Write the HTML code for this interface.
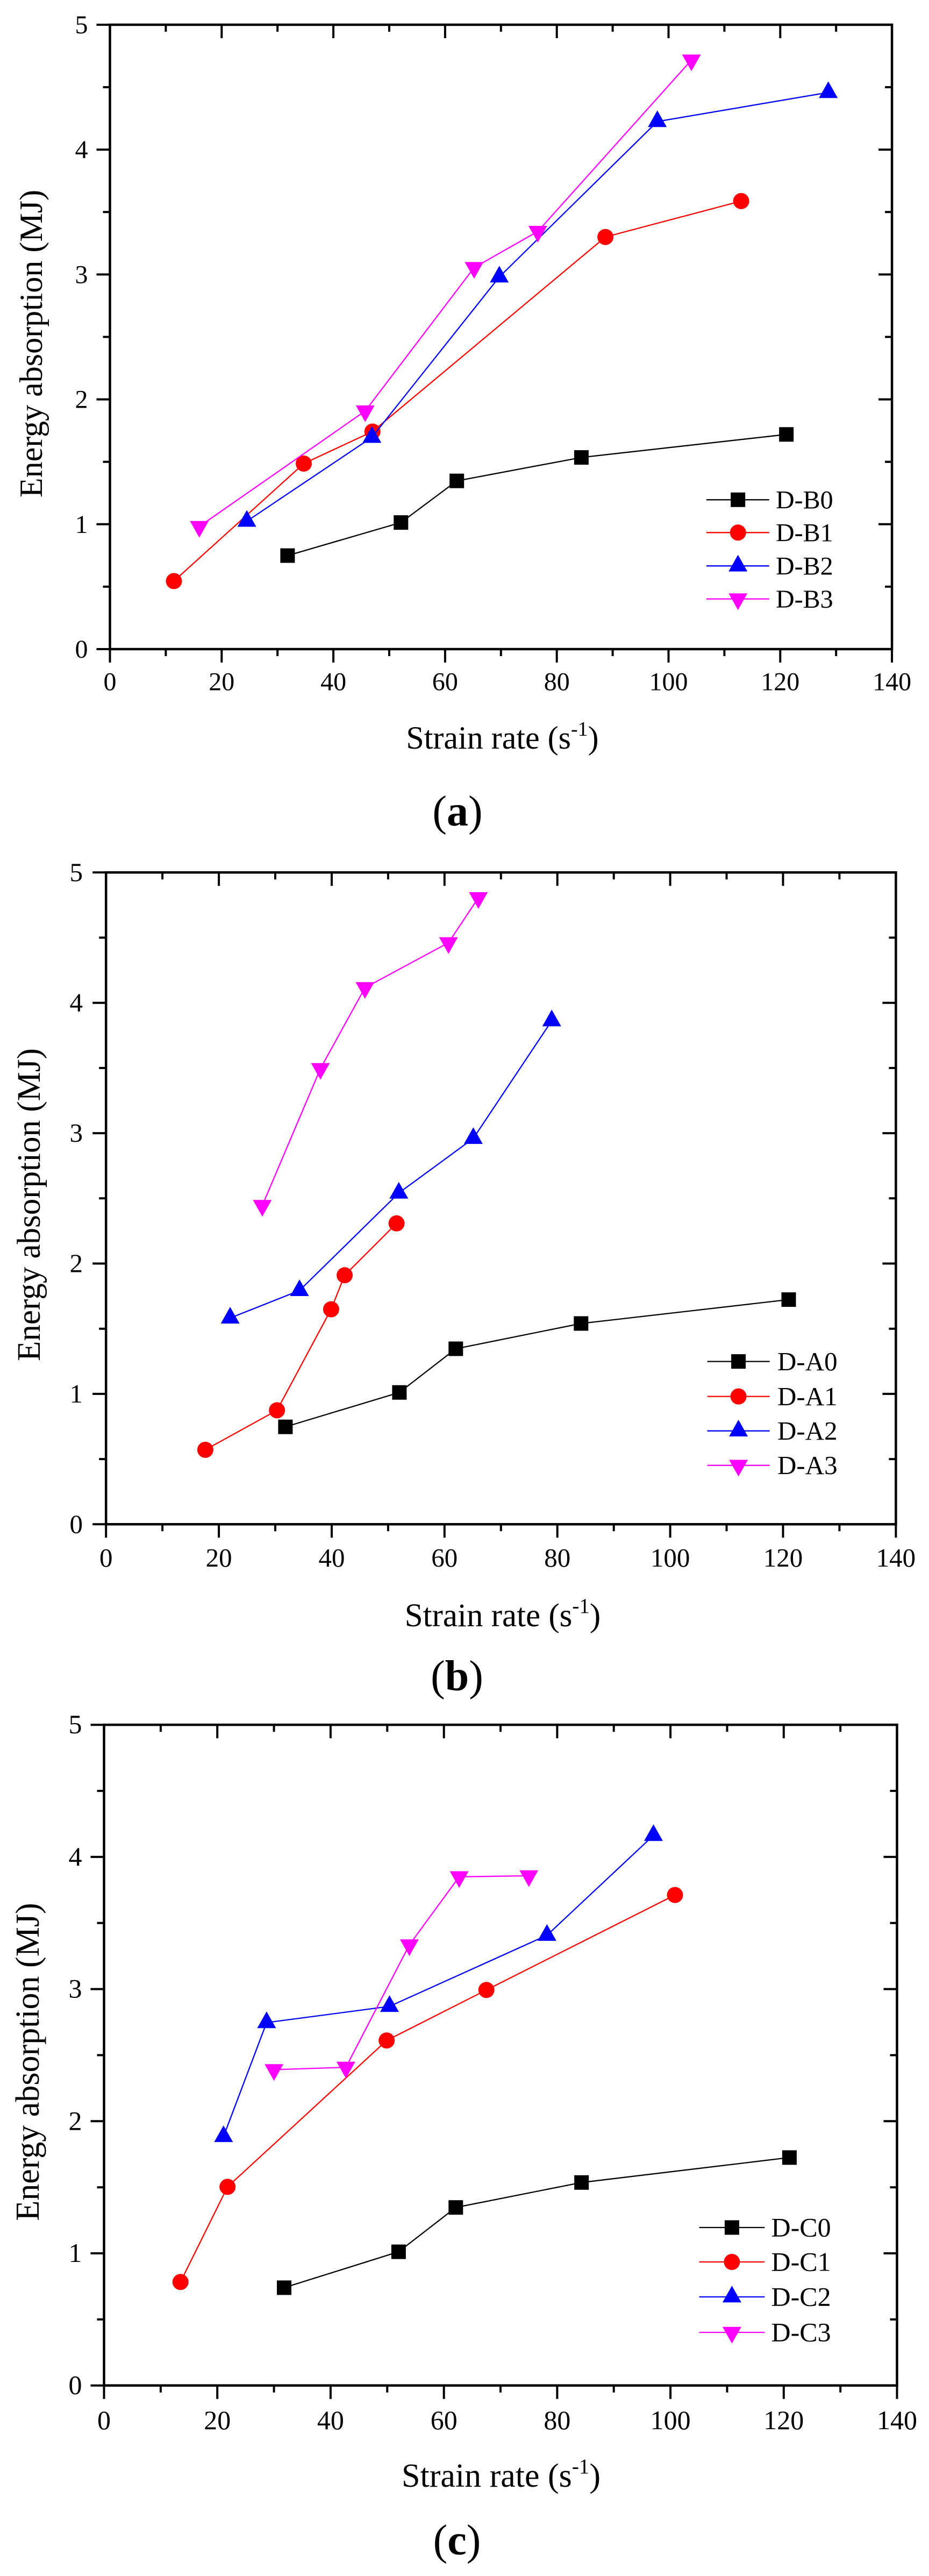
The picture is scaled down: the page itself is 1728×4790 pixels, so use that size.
<!DOCTYPE html>
<html>
<head>
<meta charset="utf-8">
<style>
  html,body{margin:0;padding:0;background:#fff;}
  svg{display:block;}
  text{font-family:"Liberation Serif","Times New Roman",serif;fill:#000;}
</style>
</head>
<body>
<svg width="1728" height="4790" viewBox="0 0 1728 4790" xmlns="http://www.w3.org/2000/svg">
<defs>
  <rect id="sq" x="-13.5" y="-13.5" width="27" height="27"/>
  <circle id="ci" cx="0" cy="0" r="15"/>
  <path id="tu" d="M0 -20.7 L17.5 10.3 L-17.5 10.3Z"/>
  <path id="td" d="M0 20.7 L17.5 -10.3 L-17.5 -10.3Z"/>
</defs>
<rect x="0" y="0" width="1728" height="4790" fill="#fff"/>

<!-- ================= CHART A ================= -->
<g>
  <rect x="204.5" y="46" width="1454.6" height="1161" fill="none" stroke="#000" stroke-width="4.5"/>
  <path stroke="#000" stroke-width="4" fill="none" d="
    M204.5 1207v25 M412.3 1207v25 M620.1 1207v25 M827.9 1207v25 M1035.7 1207v25 M1243.5 1207v25 M1451.3 1207v25 M1659.1 1207v25
    M308.4 1207v13 M516.2 1207v13 M724 1207v13 M931.8 1207v13 M1139.6 1207v13 M1347.4 1207v13 M1555.2 1207v13
    M412.3 46v25 M620.1 46v25 M827.9 46v25 M1035.7 46v25 M1243.5 46v25 M1451.3 46v25
    M308.4 46v13 M516.2 46v13 M724 46v13 M931.8 46v13 M1139.6 46v13 M1347.4 46v13 M1555.2 46v13
    M204.5 1207h-25 M204.5 974.8h-25 M204.5 742.6h-25 M204.5 510.4h-25 M204.5 278.2h-25 M204.5 46h-25
    M204.5 1090.9h-13 M204.5 858.7h-13 M204.5 626.5h-13 M204.5 394.3h-13 M204.5 162.1h-13
    M1659.1 974.8h-25 M1659.1 742.6h-25 M1659.1 510.4h-25 M1659.1 278.2h-25
    M1659.1 1090.9h-13 M1659.1 858.7h-13 M1659.1 626.5h-13 M1659.1 394.3h-13 M1659.1 162.1h-13"/>
  <g font-size="48" text-anchor="middle">
    <text x="204.5" y="1283.5">0</text><text x="412.3" y="1283.5">20</text><text x="620.1" y="1283.5">40</text>
    <text x="827.9" y="1283.5">60</text><text x="1035.7" y="1283.5">80</text><text x="1243.5" y="1283.5">100</text>
    <text x="1451.3" y="1283.5">120</text><text x="1659.1" y="1283.5">140</text>
  </g>
  <g font-size="48" text-anchor="end">
    <text x="163.5" y="1223">0</text><text x="163.5" y="990.8">1</text><text x="163.5" y="758.6">2</text>
    <text x="163.5" y="526.4">3</text><text x="163.5" y="294.2">4</text><text x="163.5" y="62">5</text>
  </g>
  <text x="934.5" y="1392" font-size="60" text-anchor="middle">Strain rate (s<tspan dy="-24" font-size="38">-1</tspan><tspan dy="24">)</tspan></text>
  <text transform="translate(78,639) rotate(-90)" font-size="60" text-anchor="middle">Energy absorption (MJ)</text>
  <text x="851" y="1535" font-size="80" text-anchor="middle">(<tspan font-weight="bold">a</tspan>)</text>

  <!-- series -->
  <polyline fill="none" stroke="#000" stroke-width="2.3" points="534.9,1033.1 745.8,971.6 849.7,894.2 1081.4,850.6 1462.7,807.8"/>
  <g fill="#000"><use href="#sq" x="534.9" y="1033.1"/><use href="#sq" x="745.8" y="971.6"/><use href="#sq" x="849.7" y="894.2"/><use href="#sq" x="1081.4" y="850.6"/><use href="#sq" x="1462.7" y="807.8"/></g>
  <polyline fill="none" stroke="#f00" stroke-width="2.3" points="323.5,1080.5 565,862 692.8,802.5 1126.1,440.7 1378.6,373.9"/>
  <g fill="#f00"><use href="#ci" x="323.5" y="1080.5"/><use href="#ci" x="565" y="862"/><use href="#ci" x="692.8" y="802.5"/><use href="#ci" x="1126.1" y="440.7"/><use href="#ci" x="1378.6" y="373.9"/></g>
  <polyline fill="none" stroke="#00f" stroke-width="2.3" points="459.1,969.2 691.8,813.2 928.7,515 1222.7,226 1540.7,171.9"/>
  <g fill="#00f"><use href="#tu" x="459.1" y="969.2"/><use href="#tu" x="691.8" y="813.2"/><use href="#tu" x="928.7" y="515"/><use href="#tu" x="1222.7" y="226"/><use href="#tu" x="1540.7" y="171.9"/></g>
  <polyline fill="none" stroke="#f0f" stroke-width="2.3" points="370.7,979 679.3,764.2 881.9,497.6 1000.4,430.3 1286.1,111.7"/>
  <g fill="#f0f"><use href="#td" x="370.7" y="979"/><use href="#td" x="679.3" y="764.2"/><use href="#td" x="881.9" y="497.6"/><use href="#td" x="1000.4" y="430.3"/><use href="#td" x="1286.1" y="111.7"/></g>

  <!-- legend -->
  <line x1="1314" y1="929.3" x2="1430.7" y2="929.3" stroke="#000" stroke-width="2.3"/><use href="#sq" x="1372.7" y="929.3" fill="#000"/>
  <line x1="1314" y1="990.3" x2="1430.7" y2="990.3" stroke="#f00" stroke-width="2.3"/><use href="#ci" x="1372.7" y="990.3" fill="#f00"/>
  <line x1="1314" y1="1052.3" x2="1430.7" y2="1052.3" stroke="#00f" stroke-width="2.3"/><use href="#tu" x="1372.7" y="1052.3" fill="#00f"/>
  <line x1="1314" y1="1113.7" x2="1430.7" y2="1113.7" stroke="#f0f" stroke-width="2.3"/><use href="#td" x="1372.7" y="1113.7" fill="#f0f"/>
  <g font-size="48">
    <text x="1443" y="945.5">D-B0</text><text x="1443" y="1006.5">D-B1</text>
    <text x="1443" y="1068.5">D-B2</text><text x="1443" y="1130">D-B3</text>
  </g>
</g>

<!-- ================= CHART B ================= -->
<g>
  <rect x="197.2" y="1622.3" width="1469.2" height="1212" fill="none" stroke="#000" stroke-width="4.5"/>
  <path stroke="#000" stroke-width="4" fill="none" d="
    M197.2 2834.3v25 M407.1 2834.3v25 M617 2834.3v25 M826.8 2834.3v25 M1036.7 2834.3v25 M1246.6 2834.3v25 M1456.5 2834.3v25 M1666.4 2834.3v25
    M302.1 2834.3v13 M512 2834.3v13 M721.9 2834.3v13 M931.8 2834.3v13 M1141.7 2834.3v13 M1351.5 2834.3v13 M1561.4 2834.3v13
    M407.1 1622.3v25 M617 1622.3v25 M826.8 1622.3v25 M1036.7 1622.3v25 M1246.6 1622.3v25 M1456.5 1622.3v25
    M302.1 1622.3v13 M512 1622.3v13 M721.9 1622.3v13 M931.8 1622.3v13 M1141.7 1622.3v13 M1351.5 1622.3v13 M1561.4 1622.3v13
    M197.2 2834.3h-25 M197.2 2591.9h-25 M197.2 2349.5h-25 M197.2 2107.1h-25 M197.2 1864.7h-25 M197.2 1622.3h-25
    M197.2 2713.1h-13 M197.2 2470.7h-13 M197.2 2228.3h-13 M197.2 1985.9h-13 M197.2 1743.5h-13
    M1666.4 2591.9h-25 M1666.4 2349.5h-25 M1666.4 2107.1h-25 M1666.4 1864.7h-25
    M1666.4 2713.1h-13 M1666.4 2470.7h-13 M1666.4 2228.3h-13 M1666.4 1985.9h-13 M1666.4 1743.5h-13"/>
  <g font-size="49" text-anchor="middle">
    <text x="197.2" y="2913">0</text><text x="407.1" y="2913">20</text><text x="617" y="2913">40</text>
    <text x="826.8" y="2913">60</text><text x="1036.7" y="2913">80</text><text x="1246.6" y="2913">100</text>
    <text x="1456.5" y="2913">120</text><text x="1666.4" y="2913">140</text>
  </g>
  <g font-size="49" text-anchor="end">
    <text x="154" y="2850.3">0</text><text x="154" y="2607.9">1</text><text x="154" y="2365.5">2</text>
    <text x="154" y="2123.1">3</text><text x="154" y="1880.7">4</text><text x="154" y="1638.3">5</text>
  </g>
  <text x="935" y="3024" font-size="61" text-anchor="middle">Strain rate (s<tspan dy="-25" font-size="39">-1</tspan><tspan dy="25">)</tspan></text>
  <text transform="translate(74,2240) rotate(-90)" font-size="61" text-anchor="middle">Energy absorption (MJ)</text>
  <text x="850" y="3143" font-size="80" text-anchor="middle">(<tspan font-weight="bold">b</tspan>)</text>

  <polyline fill="none" stroke="#000" stroke-width="2.3" points="530.9,2653.2 742.9,2589.2 847.8,2508 1080.8,2461 1467,2416.6"/>
  <g fill="#000"><use href="#sq" x="530.9" y="2653.2"/><use href="#sq" x="742.9" y="2589.2"/><use href="#sq" x="847.8" y="2508"/><use href="#sq" x="1080.8" y="2461"/><use href="#sq" x="1467" y="2416.6"/></g>
  <polyline fill="none" stroke="#f00" stroke-width="2.3" points="381.9,2695.9 515.2,2622.4 615.9,2434.6 641.1,2371.3 737.6,2274.8"/>
  <g fill="#f00"><use href="#ci" x="381.9" y="2695.9"/><use href="#ci" x="515.2" y="2622.4"/><use href="#ci" x="615.9" y="2434.6"/><use href="#ci" x="641.1" y="2371.3"/><use href="#ci" x="737.6" y="2274.8"/></g>
  <polyline fill="none" stroke="#00f" stroke-width="2.3" points="428.1,2450.8 557.1,2399.7 741.8,2218.4 880.4,2116.8 1026.2,1898.1"/>
  <g fill="#00f"><use href="#tu" x="428.1" y="2450.8"/><use href="#tu" x="557.1" y="2399.7"/><use href="#tu" x="741.8" y="2218.4"/><use href="#tu" x="880.4" y="2116.8"/><use href="#tu" x="1026.2" y="1898.1"/></g>
  <polyline fill="none" stroke="#f0f" stroke-width="2.3" points="487.9,2241.6 596,1987.1 678.9,1836.6 834.2,1753 889.8,1669.3"/>
  <g fill="#f0f"><use href="#td" x="487.9" y="2241.6"/><use href="#td" x="596" y="1987.1"/><use href="#td" x="678.9" y="1836.6"/><use href="#td" x="834.2" y="1753"/><use href="#td" x="889.8" y="1669.3"/></g>

  <line x1="1315.6" y1="2531.6" x2="1431.7" y2="2531.6" stroke="#000" stroke-width="2.3"/><use href="#sq" x="1373.6" y="2531.6" fill="#000"/>
  <line x1="1315.6" y1="2596.6" x2="1431.7" y2="2596.6" stroke="#f00" stroke-width="2.3"/><use href="#ci" x="1373.6" y="2596.6" fill="#f00"/>
  <line x1="1315.6" y1="2660.7" x2="1431.7" y2="2660.7" stroke="#00f" stroke-width="2.3"/><use href="#tu" x="1373.6" y="2660.7" fill="#00f"/>
  <line x1="1315.6" y1="2724.8" x2="1431.7" y2="2724.8" stroke="#f0f" stroke-width="2.3"/><use href="#td" x="1373.6" y="2724.8" fill="#f0f"/>
  <g font-size="49">
    <text x="1446" y="2548">D-A0</text><text x="1446" y="2613">D-A1</text>
    <text x="1446" y="2677">D-A2</text><text x="1446" y="2741">D-A3</text>
  </g>
</g>

<!-- ================= CHART C ================= -->
<g>
  <rect x="193.5" y="3207.2" width="1475" height="1228.5" fill="none" stroke="#000" stroke-width="4.5"/>
  <path stroke="#000" stroke-width="4" fill="none" d="
    M193.5 4435.7v25 M404.2 4435.7v25 M614.9 4435.7v25 M825.7 4435.7v25 M1036.4 4435.7v25 M1247.1 4435.7v25 M1457.8 4435.7v25 M1668.5 4435.7v25
    M298.9 4435.7v13 M509.6 4435.7v13 M720.3 4435.7v13 M931 4435.7v13 M1141.7 4435.7v13 M1352.5 4435.7v13 M1563.2 4435.7v13
    M404.2 3207.2v25 M614.9 3207.2v25 M825.7 3207.2v25 M1036.4 3207.2v25 M1247.1 3207.2v25 M1457.8 3207.2v25
    M298.9 3207.2v13 M509.6 3207.2v13 M720.3 3207.2v13 M931 3207.2v13 M1141.7 3207.2v13 M1352.5 3207.2v13 M1563.2 3207.2v13
    M193.5 4435.7h-25 M193.5 4190h-25 M193.5 3944.3h-25 M193.5 3698.6h-25 M193.5 3452.9h-25 M193.5 3207.2h-25
    M193.5 4312.9h-13 M193.5 4067.2h-13 M193.5 3821.5h-13 M193.5 3575.8h-13 M193.5 3330.1h-13
    M1668.5 4190h-25 M1668.5 3944.3h-25 M1668.5 3698.6h-25 M1668.5 3452.9h-25
    M1668.5 4312.9h-13 M1668.5 4067.2h-13 M1668.5 3821.5h-13 M1668.5 3575.8h-13 M1668.5 3330.1h-13"/>
  <g font-size="50" text-anchor="middle">
    <text x="193.5" y="4517">0</text><text x="404.2" y="4517">20</text><text x="614.9" y="4517">40</text>
    <text x="825.7" y="4517">60</text><text x="1036.4" y="4517">80</text><text x="1247.1" y="4517">100</text>
    <text x="1457.8" y="4517">120</text><text x="1668.5" y="4517">140</text>
  </g>
  <g font-size="50" text-anchor="end">
    <text x="152.5" y="4451.7">0</text><text x="152.5" y="4206">1</text><text x="152.5" y="3960.3">2</text>
    <text x="152.5" y="3714.6">3</text><text x="152.5" y="3468.9">4</text><text x="152.5" y="3223.2">5</text>
  </g>
  <text x="932" y="4624" font-size="62" text-anchor="middle">Strain rate (s<tspan dy="-25" font-size="39">-1</tspan><tspan dy="25">)</tspan></text>
  <text transform="translate(72,3834) rotate(-90)" font-size="62" text-anchor="middle">Energy absorption (MJ)</text>
  <text x="850" y="4750" font-size="80" text-anchor="middle">(<tspan font-weight="bold">c</tspan>)</text>

  <polyline fill="none" stroke="#000" stroke-width="2.3" points="528.5,4253.9 741.4,4187.1 847.8,4104.7 1081.7,4058.3 1468.4,4011.9"/>
  <g fill="#000"><use href="#sq" x="528.5" y="4253.9"/><use href="#sq" x="741.4" y="4187.1"/><use href="#sq" x="847.8" y="4104.7"/><use href="#sq" x="1081.7" y="4058.3"/><use href="#sq" x="1468.4" y="4011.9"/></g>
  <polyline fill="none" stroke="#f00" stroke-width="2.3" points="335.7,4243.3 423.2,4066.4 719.2,3794.2 904.7,3700.3 1255.5,3523.7"/>
  <g fill="#f00"><use href="#ci" x="335.7" y="4243.3"/><use href="#ci" x="423.2" y="4066.4"/><use href="#ci" x="719.2" y="3794.2"/><use href="#ci" x="904.7" y="3700.3"/><use href="#ci" x="1255.5" y="3523.7"/></g>
  <polyline fill="none" stroke="#00f" stroke-width="2.3" points="415.8,3972.8 495.9,3761 724.5,3730.8 1017.4,3598.6 1215.5,3412.9"/>
  <g fill="#00f"><use href="#tu" x="415.8" y="3972.8"/><use href="#tu" x="495.9" y="3761"/><use href="#tu" x="724.5" y="3730.8"/><use href="#tu" x="1017.4" y="3598.6"/><use href="#tu" x="1215.5" y="3412.9"/></g>
  <polyline fill="none" stroke="#f0f" stroke-width="2.3" points="509.6,3848.5 643.4,3844.1 761.4,3616.5 854.1,3489.8 983.7,3488"/>
  <g fill="#f0f"><use href="#td" x="509.6" y="3848.5"/><use href="#td" x="643.4" y="3844.1"/><use href="#td" x="761.4" y="3616.5"/><use href="#td" x="854.1" y="3489.8"/><use href="#td" x="983.7" y="3488"/></g>

  <line x1="1300.5" y1="4142" x2="1422.3" y2="4142" stroke="#000" stroke-width="2.3"/><use href="#sq" x="1361.4" y="4142" fill="#000"/>
  <line x1="1300.5" y1="4206" x2="1422.3" y2="4206" stroke="#f00" stroke-width="2.3"/><use href="#ci" x="1361.4" y="4206" fill="#f00"/>
  <line x1="1300.5" y1="4271" x2="1422.3" y2="4271" stroke="#00f" stroke-width="2.3"/><use href="#tu" x="1361.4" y="4271" fill="#00f"/>
  <line x1="1300.5" y1="4337" x2="1422.3" y2="4337" stroke="#f0f" stroke-width="2.3"/><use href="#td" x="1361.4" y="4337" fill="#f0f"/>
  <g font-size="50">
    <text x="1434.5" y="4158.5">D-C0</text><text x="1434.5" y="4222.5">D-C1</text>
    <text x="1434.5" y="4287.5">D-C2</text><text x="1434.5" y="4353.5">D-C3</text>
  </g>
</g>
</svg>
</body>
</html>
